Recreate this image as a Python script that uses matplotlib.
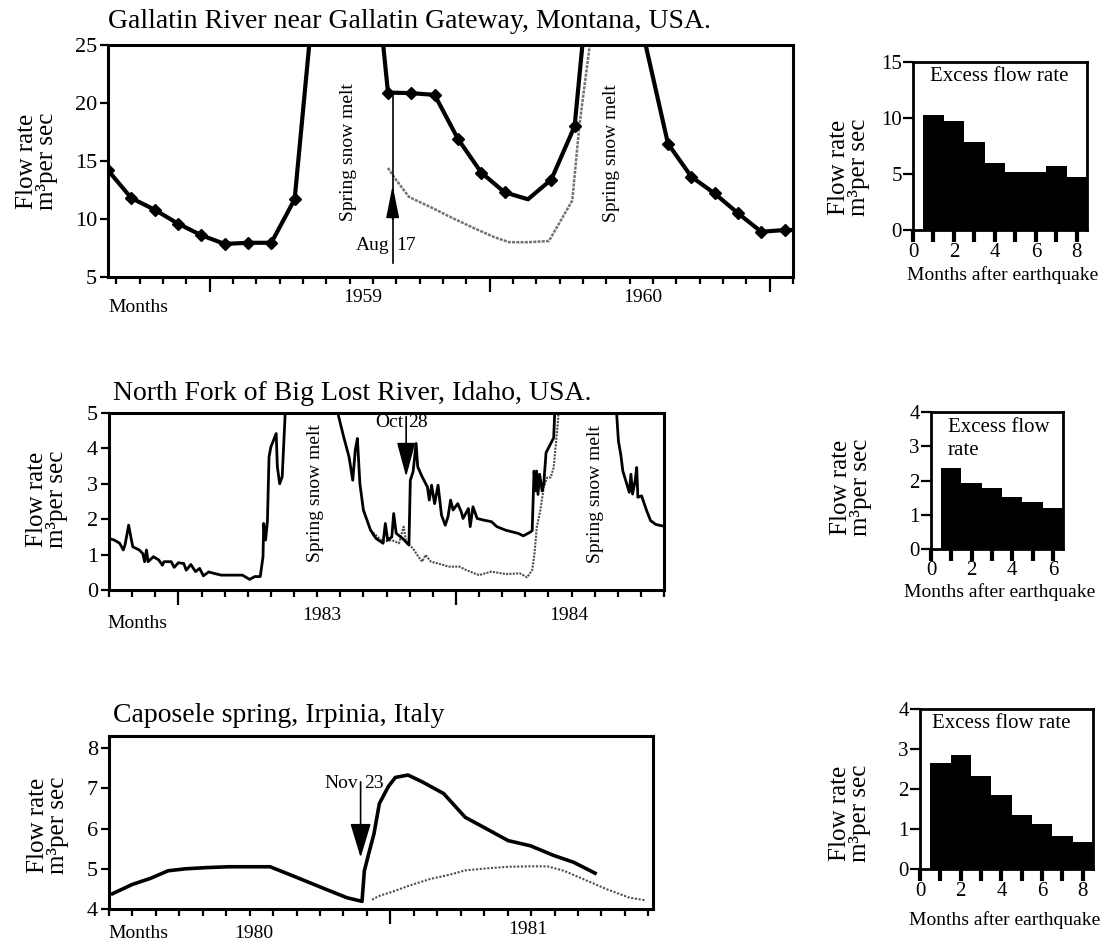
import numpy as np
import matplotlib.pyplot as plt
from matplotlib.transforms import blended_transform_factory

plt.rcParams['font.family'] = ['Liberation Serif', 'DejaVu Serif']

W, H = 1107, 944

# Gallatin River near Gallatin Gateway (monthly means, m3/s); nan = gap
gal_month = list(range(31))
gal_flow = [14.2, 11.8, 10.8, 9.6, 8.6, 7.85, 7.95, 7.95, 11.7, 33, np.nan,
            41, 20.9, 20.85, 20.7, 16.9, 14.0, 12.3, 11.7, 13.4, 18.0, 39, np.nan,
            25.4, 16.5, 13.65, 12.2, 10.5, 8.9, 9.05, 9.05]
gal_marked = [0, 1, 2, 3, 4, 5, 6, 7, 8, 12, 13, 14, 15, 16, 17, 19, 20,
              24, 25, 26, 27, 28, 29]
gal_base_month = [12.0, 12.3, 12.9, 13.85, 14.8, 15.7, 16.6, 17.2, 18.0, 18.9, 19.9, 20.2, 20.65, 21.0]
gal_base_flow = [14.4, 13.5, 11.9, 11.0, 10.05, 9.2, 8.4, 8.0, 8.0, 8.1, 11.6, 18.0, 25.0, 32.0]
gal_excess = [10.25, 9.7, 7.85, 5.95, 5.15, 5.15, 5.7, 4.7]

# North Fork of Big Lost River (daily record)
idaho_month = [0, 0.23, 0.46, 0.62, 0.69, 0.85, 0.97, 1.03, 1.31, 1.46, 1.54, 1.62, 1.69, 1.92,
               2.15, 2.31, 2.38, 2.69, 2.82, 3.0, 3.23, 3.34, 3.54, 3.74, 3.92, 4.08, 4.31,
               4.54, 4.85, 5.77, 6.08, 6.31, 6.54, 6.66, 6.69, 6.77, 6.85, 6.92, 7.0, 7.23,
               7.28, 7.38, 7.49, 7.57, 7.62, 7.7, 8.5,
               9.85, 9.92, 10.15, 10.38, 10.54, 10.65, 10.74, 10.85, 11.0, 11.31, 11.54,
               11.85, 11.95, 12.05, 12.23, 12.31, 12.42, 12.69, 12.97, 13.03, 13.15, 13.28,
               13.35, 13.54, 13.77, 13.85, 13.95, 14.08, 14.23, 14.38, 14.54, 14.66, 14.77,
               14.88, 15.08, 15.23, 15.31, 15.54, 15.62, 15.74, 15.92, 16.23, 16.54, 16.77,
               17.15, 17.46, 17.69, 17.92, 18.23, 18.3, 18.38, 18.45, 18.49, 18.55, 18.62,
               18.73, 18.8, 18.9, 18.97, 19.16, 19.23, 19.27, 19.3, 20.5,
               21.89, 21.96, 22.03, 22.13, 22.22, 22.39, 22.5, 22.57, 22.64, 22.75, 22.82,
               22.87, 23.03, 23.25, 23.42, 23.65, 23.85, 24.0]
idaho_flow = [1.46, 1.41, 1.32, 1.13, 1.27, 1.83, 1.41, 1.22, 1.13, 1.03, 0.8, 1.13, 0.8, 0.94,
              0.85, 0.7, 0.8, 0.8, 0.64, 0.77, 0.75, 0.56, 0.72, 0.52, 0.61, 0.4, 0.51,
              0.47, 0.42, 0.42, 0.3, 0.38, 0.38, 0.94, 1.88, 1.41, 1.93, 3.76, 4.04, 4.42,
              3.48, 3.0, 3.2, 4.32, 5.0, 5.6, np.nan,
              5.6, 4.93, 4.32, 3.76, 3.1, 3.95, 4.28, 3.0, 2.26, 1.69, 1.46,
              1.32, 1.88, 1.41, 1.5, 2.16, 1.6, 1.46, 1.27, 3.1, 3.34, 4.14,
              3.48, 3.2, 2.91, 2.54, 2.96, 2.44, 2.96, 2.11, 1.83, 2.07, 2.54,
              2.26, 2.44, 2.21, 2.02, 2.3, 1.79, 2.35, 2.02, 1.97, 1.93, 1.79,
              1.69, 1.64, 1.6, 1.53, 1.64, 1.68, 3.36, 2.8, 3.36, 2.7, 3.27,
              2.8, 3.0, 3.88, 3.97, 4.22, 4.3, 4.95, 5.6, np.nan,
              5.6, 4.9, 4.2, 3.83, 3.36, 3.0, 2.76, 3.27, 2.71, 3.08, 3.46,
              2.62, 2.66, 2.24, 1.96, 1.85, 1.82, 1.8]
idaho_base_month = [11.31, 11.85, 12.23, 12.54, 12.74, 12.85, 13.15, 13.38, 13.54, 13.69, 13.92,
                    14.23, 14.69, 15.15, 15.46, 16.0, 16.54, 17.15, 17.77, 18.08, 18.3, 18.4,
                    18.5, 18.65, 18.8, 18.95, 19.1, 19.23, 19.35, 19.43, 19.45]
idaho_base_flow = [1.69, 1.36, 1.41, 1.32, 1.79, 1.36, 1.17, 0.94, 0.8, 0.99, 0.8,
                   0.75, 0.66, 0.66, 0.56, 0.42, 0.52, 0.45, 0.47, 0.36, 0.56, 1.03,
                   1.78, 2.24, 2.9, 3.18, 3.18, 3.46, 4.3, 4.9, 5.6]
idaho_excess = [2.37, 1.94, 1.77, 1.53, 1.38, 1.21]

# Caposele spring
capo_month = [0.15, 0.99, 1.76, 2.52, 3.28, 4.2, 5.11, 6.87, 7.86, 9.08, 10.15, 10.79,
              10.89, 11.07, 11.3, 11.53, 11.91, 12.21, 12.75, 13.36, 14.27, 15.19, 16.11,
              17.02, 17.98, 18.97, 19.82, 20.73]
capo_flow = [4.38, 4.61, 4.76, 4.95, 5.0, 5.03, 5.05, 5.05, 4.82, 4.53, 4.28, 4.19,
             4.95, 5.36, 5.87, 6.62, 7.04, 7.27, 7.33, 7.16, 6.87, 6.28, 5.99,
             5.7, 5.57, 5.33, 5.16, 4.89]
capo_base_month = [11.22, 11.5, 12.14, 12.75, 13.66, 14.58, 15.19, 16.11, 17.02, 17.94,
                   18.7, 19.4, 20.24, 21.23, 22.2, 22.85]
capo_base_flow = [4.23, 4.32, 4.44, 4.57, 4.74, 4.86, 4.96, 5.01, 5.05, 5.06,
                  5.06, 4.95, 4.74, 4.49, 4.28, 4.22]
capo_excess = [2.65, 2.84, 2.33, 1.85, 1.36, 1.13, 0.83, 0.68]

fig = plt.figure(figsize=(W / 100, H / 100), dpi=100)
fig.patch.set_facecolor('white')


def box(l, t, r, b):
    return fig.add_axes([l / W, 1 - b / H, (r - l) / W, (b - t) / H])


def fy(y):
    return 1 - y / H


def style_main(ax, xlim, ylim, short, long, yticks):
    ax.set_xlim(*xlim)
    ax.set_ylim(*ylim)
    for s in ax.spines.values():
        s.set_linewidth(2.2)
    ax.set_xticks(long)
    ax.set_xticks(short, minor=True)
    ax.tick_params(axis='x', which='major', length=11, width=1.6, labelbottom=False)
    ax.tick_params(axis='x', which='minor', length=5, width=1.6)
    ax.set_yticks(yticks)
    ax.tick_params(axis='y', length=6, width=1.6, labelsize=16, pad=2)


def style_bar(ax, xlim, ylim, xticks, yticks, xpad=1):
    ax.set_xlim(*xlim)
    ax.set_ylim(*ylim)
    for s in ax.spines.values():
        s.set_linewidth(2.0)
    ax.set_xticks(xticks)
    ax.set_xticklabels([str(t) if t % 2 == 0 else '' for t in xticks])
    ax.tick_params(axis='x', length=8.5, width=3, labelsize=15, pad=xpad)
    ax.set_yticks(yticks)
    ax.tick_params(axis='y', length=7, width=1.6, labelsize=15, pad=1)


def ylab(x, y):
    fig.text(x / W, fy(y), 'Flow rate\nm³per sec', rotation=90, ha='center', va='center',
             fontsize=18, linespacing=0.85)


# ---------- top row ----------
ax = box(108, 45, 793, 277)
style_main(ax, (0, 29.35), (5, 25),
           [t for t in np.arange(0.36, 29.4, 1) if round(t - 0.36) % 12 != 4],
           [4.36, 16.36, 28.36], [5, 10, 15, 20, 25])
ax.plot(gal_base_month, gal_base_flow, color='0.45', lw=1.8, ls=(0, (1.2, 0.5)))
ax.plot(gal_month, gal_flow, color='black', lw=3, marker='D', ms=6, markevery=gal_marked)
ax.plot([12.2, 12.2], [6.2, 20.9], color='black', lw=1.2)
ax.annotate('', xy=(12.2, 12.9), xytext=(12.2, 10.0),
            arrowprops=dict(arrowstyle='-|>,head_length=2.0,head_width=0.4', color='black',
                            lw=1.2, shrinkA=0, shrinkB=0))
ax.text(12.05, 7.73, 'Aug', ha='right', va='center', fontsize=14)
ax.text(12.35, 7.73, '17', ha='left', va='center', fontsize=14)
ax.text(10.3, 15.8, 'Spring snow melt', rotation=90, ha='center', va='center', fontsize=14)
ax.text(21.6, 15.7, 'Spring snow melt', rotation=90, ha='center', va='center', fontsize=14)
tr = blended_transform_factory(ax.transData, fig.transFigure)
ax.text(1.29, fy(307), 'Months', transform=tr, ha='center', va='center', fontsize=14)
ax.text(10.93, fy(298), '1959', transform=tr, ha='center', va='center', fontsize=14)
ax.text(22.9, fy(298), '1960', transform=tr, ha='center', va='center', fontsize=14)
fig.text(108 / W, fy(22), 'Gallatin River near Gallatin Gateway, Montana, USA.',
         ha='left', va='center', fontsize=20)
ylab(37, 161)

bx = box(913, 62, 1087, 230)
style_bar(bx, (0, 8.5), (0, 15), list(range(9)), [0, 5, 10, 15])
bx.bar(range(1, 9), gal_excess, width=1.0, color='black')
bx.text(4.23, 13.7, 'Excess flow rate', ha='center', va='center', fontsize=15)
fig.text(1003 / W, fy(275), 'Months after earthquake', ha='center', va='center', fontsize=14)
ylab(849, 167)

# ---------- middle row ----------
ax = box(109, 413, 664, 590)
style_main(ax, (0, 24), (0, 5),
           [t for t in range(25) if t % 12 != 3], [3, 15], [0, 1, 2, 3, 4, 5])
ax.plot(idaho_base_month, idaho_base_flow, color='0.3', lw=1.5, ls=(0, (1, 0.6)))
ax.plot(idaho_month, idaho_flow, color='black', lw=2.0)
ax.annotate('', xy=(12.85, 3.2), xytext=(12.85, 4.9),
            arrowprops=dict(arrowstyle='-|>,head_length=2.15,head_width=0.58', color='black',
                            lw=1.2, shrinkA=0, shrinkB=0))
ax.text(12.75, 4.72, 'Oct', ha='right', va='center', fontsize=14)
ax.text(12.95, 4.72, '28', ha='left', va='center', fontsize=14)
ax.text(8.92, 2.73, 'Spring snow melt', rotation=90, ha='center', va='center', fontsize=14)
ax.text(21.03, 2.71, 'Spring snow melt', rotation=90, ha='center', va='center', fontsize=14)
tr = blended_transform_factory(ax.transData, fig.transFigure)
ax.text(1.23, fy(623), 'Months', transform=tr, ha='center', va='center', fontsize=14)
ax.text(9.18, fy(615), '1983', transform=tr, ha='center', va='center', fontsize=14)
ax.text(19.9, fy(615), '1984', transform=tr, ha='center', va='center', fontsize=14)
fig.text(113 / W, fy(393), 'North Fork of Big Lost River, Idaho, USA.',
         ha='left', va='center', fontsize=20)
ylab(47, 499)

bx = box(931, 412, 1063, 549)
style_bar(bx, (0, 6.5), (0, 4), list(range(7)), [0, 1, 2, 3, 4], xpad=0)
bx.bar(range(1, 7), idaho_excess, width=1.0, color='black')
bx.text(0.82, 3.56, 'Excess flow', ha='left', va='center', fontsize=15)
bx.text(0.82, 2.87, 'rate', ha='left', va='center', fontsize=15)
fig.text(1000 / W, fy(592), 'Months after earthquake', ha='center', va='center', fontsize=14)
ylab(851, 487)

# ---------- bottom row ----------
ax = box(109, 736, 653, 909)
style_main(ax, (0, 23.2), (4, 8.3),
           [t for t in range(24) if t != 12], [12], [4, 5, 6, 7, 8])
ax.plot(capo_base_month, capo_base_flow, color='0.3', lw=1.5, ls=(0, (1, 0.8)))
ax.plot(capo_month, capo_flow, color='black', lw=2.6)
ax.annotate('', xy=(10.73, 5.28), xytext=(10.73, 7.16),
            arrowprops=dict(arrowstyle='-|>,head_length=2.15,head_width=0.65', color='black',
                            lw=1.2, shrinkA=0, shrinkB=0))
ax.text(10.62, 7.12, 'Nov', ha='right', va='center', fontsize=14)
ax.text(10.86, 7.12, '23', ha='left', va='center', fontsize=14)
tr = blended_transform_factory(ax.transData, fig.transFigure)
ax.text(1.24, fy(933), 'Months', transform=tr, ha='center', va='center', fontsize=14)
ax.text(6.18, fy(933), '1980', transform=tr, ha='center', va='center', fontsize=14)
ax.text(17.86, fy(930), '1981', transform=tr, ha='center', va='center', fontsize=14)
fig.text(113 / W, fy(715), 'Caposele spring, Irpinia, Italy',
         ha='left', va='center', fontsize=20)
ylab(48, 825)

bx = box(920, 709, 1093, 869)
style_bar(bx, (0, 8.5), (0, 4), list(range(9)), [0, 1, 2, 3, 4])
bx.bar(range(1, 9), capo_excess, width=1.0, color='black')
bx.text(4.0, 3.65, 'Excess flow rate', ha='center', va='center', fontsize=15)
fig.text(1005 / W, fy(920), 'Months after earthquake', ha='center', va='center', fontsize=14)
ylab(850, 813)

fig.savefig('out.png', dpi=100, facecolor='white')
